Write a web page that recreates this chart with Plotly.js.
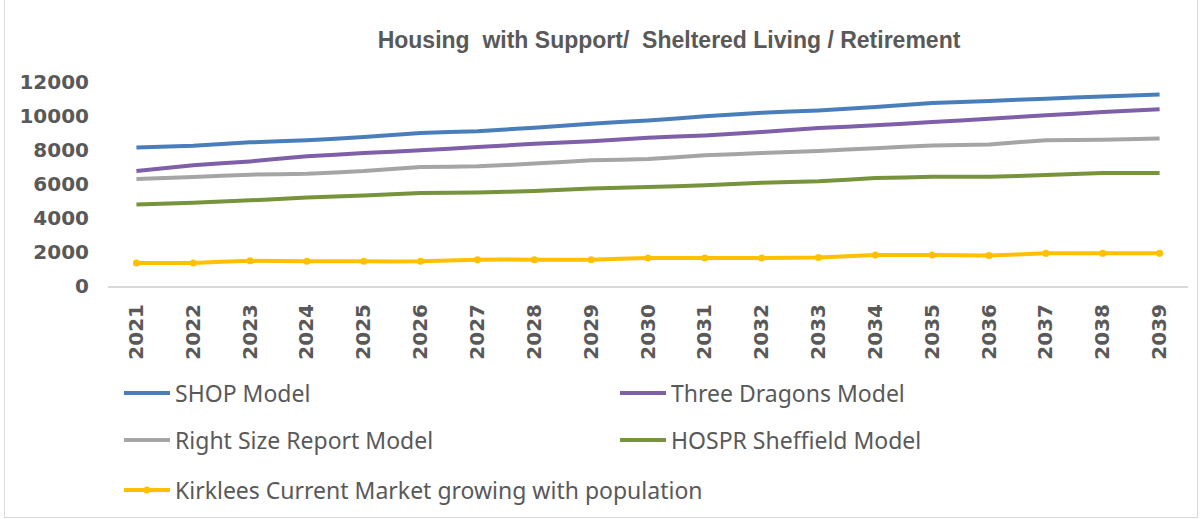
<!DOCTYPE html>
<html>
<head>
<meta charset="utf-8">
<script src="https://cdn.plot.ly/plotly-3.0.1.min.js"></script>
<style>
html,body{margin:0;padding:0;background:#fff;}
#chart{position:absolute;left:0;top:0;width:1201px;height:519px;}
#frame{position:absolute;left:4px;top:-1px;width:1192px;height:517px;border:1px solid #d9d9d9;pointer-events:none;}
</style>
</head>
<body>
<div id="chart"></div>
<div id="frame"></div>
<script>
const years = ['2021','2022','2023','2024','2025','2026','2027','2028','2029','2030','2031','2032','2033','2034','2035','2036','2037','2038','2039'];
const shopModel = [8140,8250,8450,8570,8760,9000,9110,9310,9550,9740,9980,10190,10330,10530,10760,10880,11020,11150,11270];
const threeDragons = [6760,7100,7330,7630,7820,7980,8170,8370,8510,8720,8860,9060,9290,9450,9640,9840,10040,10230,10390];
const rightSize = [6290,6410,6550,6610,6760,7000,7040,7200,7390,7470,7690,7820,7940,8110,8270,8330,8570,8610,8670];
const hosprSheffield = [4790,4900,5040,5200,5330,5470,5500,5590,5730,5820,5920,6080,6160,6350,6420,6430,6530,6650,6650];
const kirklees = [1360,1360,1480,1450,1450,1450,1550,1550,1550,1650,1650,1650,1680,1820,1820,1800,1920,1920,1920];
const yTicks = [0,2000,4000,6000,8000,10000,12000];

const legFont = {family:'"Noto Sans", "Liberation Sans", Arial, sans-serif', size:23, color:'#595959'};
function tr(name, y, color, legend, marker){
  const t = {x:years, y:y, name:name, type:'scatter', mode: marker ? 'lines+markers' : 'lines',
    line:{color:color, width:4, shape:'spline', smoothing:0.3}, legend:legend};
  if(marker) t.marker = {color:color, size:7, symbol:'circle'};
  return t;
}
const data = [
  tr('SHOP Model', shopModel, '#4a7ebb', 'legend', false),
  tr('Three Dragons Model', threeDragons, '#7e5fa8', 'legend', false),
  tr('Right Size Report Model', rightSize, '#a5a5a5', 'legend2', false),
  tr('HOSPR Sheffield Model', hosprSheffield, '#77933c', 'legend2', false),
  tr('Kirklees Current Market growing with population', kirklees, '#ffc000', 'legend3', true)
];
function leg(yc, ew){
  return {orientation:'h', xref:'container', yref:'container', x:119/1201, xanchor:'left',
    y:1-yc/519, yanchor:'middle', entrywidth:ew, entrywidthmode:'pixels', font:legFont,
    bgcolor:'rgba(0,0,0,0)', itemwidth:46, traceorder:'normal'};
}
const layout = {
  width:1201, height:519, autosize:false,
  paper_bgcolor:'#ffffff', plot_bgcolor:'#ffffff',
  margin:{l:108, r:13, t:82, b:233},
  title:{text:'Housing\u00A0 with Support/\u00A0 Sheltered Living / Retirement',
    font:{family:'"Liberation Sans Narrow", "Arial Narrow", "Liberation Sans", Arial, sans-serif', size:23, color:'#595959', weight:'bold'},
    x:669/1201, xanchor:'center', xref:'container', y:1-40/519, yanchor:'middle', yref:'container'},
  xaxis:{type:'category', range:[-0.5,18.5], tickangle:-90, showgrid:false, zeroline:false,
    showline:true, linecolor:'#d9d9d9', linewidth:2, ticks:'', ticklabelstandoff:8,
    tickfont:{family:'"DejaVu Sans", "Liberation Sans", Arial, sans-serif', size:20, color:'#595959', weight:'bold'}},
  yaxis:{range:[0,12000], tickvals:yTicks, ticktext:yTicks.map(String), showgrid:false, zeroline:false,
    showline:false, ticks:'', ticklabelstandoff:18,
    tickfont:{family:'"DejaVu Sans", "Liberation Sans", Arial, sans-serif', size:20, color:'#595959', weight:'bold'}},
  showlegend:true,
  legend:leg(393, 435), legend2:leg(440, 435), legend3:leg(490, 900)
};
Plotly.newPlot('chart', data, layout, {displayModeBar:false, staticPlot:true});
</script>
</body>
</html>
